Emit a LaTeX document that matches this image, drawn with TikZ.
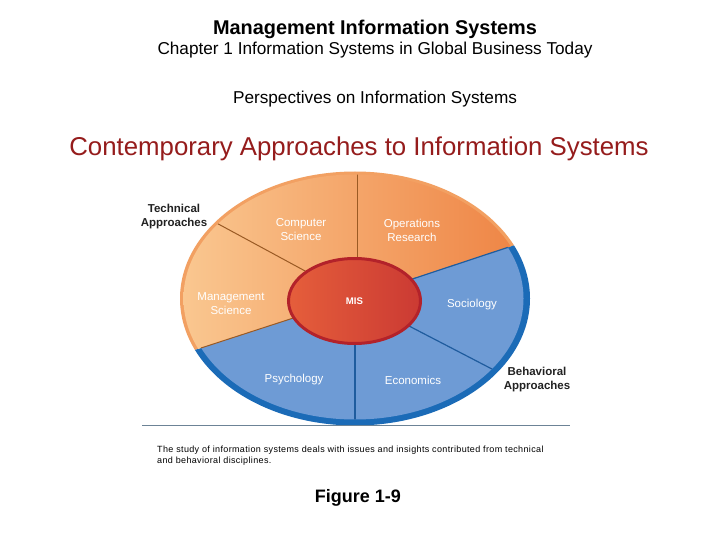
\documentclass[tikz,border=0pt]{standalone}
\usepackage{fontspec}
\setmainfont{Liberation Sans}
\usetikzlibrary{shapes.geometric}
\definecolor{rimOrange}{HTML}{F2A062}
\definecolor{orL}{HTML}{FAC891}
\definecolor{orR}{HTML}{EE8242}
\definecolor{blueFill}{HTML}{6E9BD5}
\definecolor{rimBlue}{HTML}{1B6BB7}
\definecolor{divOrange}{HTML}{9A5A24}
\definecolor{divBlue}{HTML}{1F5C9E}
\definecolor{misL}{HTML}{E55E3B}
\definecolor{misR}{HTML}{CB3A33}
\definecolor{misBorder}{HTML}{B3222A}
\definecolor{grayLine}{HTML}{6C8396}
\definecolor{titleRed}{HTML}{951C1C}
\definecolor{textDark}{HTML}{222222}
\begin{document}
\begin{tikzpicture}[x=1pt,y=-1pt,
  sectorlbl/.style={text=white, font=\fontsize{11.5}{14}\selectfont, align=center, inner sep=0pt},
  outerlbl/.style={text=textDark, font=\bfseries\fontsize{11.5}{14}\selectfont, align=center, inner sep=0pt},
  divo/.style={draw=divOrange, line width=1pt},
  divb/.style={draw=divBlue, line width=1.2pt}]
\useasboundingbox (0,0) rectangle (720,540);
\fill[white] (0,0) rectangle (720,540);

% titles
\node[font=\bfseries\fontsize{19.9}{24}\selectfont, inner sep=0pt] (title) at (375,29) {Management Information Systems};
\node[font=\fontsize{17.2}{20}\selectfont, inner sep=0pt] (chapter) at (375,50) {Chapter 1 Information Systems in Global Business Today};
\node[font=\fontsize{17.2}{20}\selectfont, inner sep=0pt] (persp) at (375,99) {Perspectives on Information Systems};
\node[font=\fontsize{25.8}{30}\selectfont, text=titleRed, inner sep=0pt] (heading) at (359,149) {Contemporary Approaches to Information Systems};

\coordinate (c) at (355,298);
% rim
\begin{scope}
\clip (355,298.5) ellipse [x radius=175pt, y radius=127pt];
\fill[rimOrange] (355,298) -- (669,194) -- (669,100) -- (47,100) -- (47,398) -- cycle;
\fill[rimBlue] (355,298) -- (47,398) -- (47,520) -- (669,520) -- (669,194) -- cycle;
\end{scope}
% orange sectors
\begin{scope}
\clip (355,298.5) ellipse [x radius=171.5pt, y radius=124pt];
\shade[left color=orL, right color=orR] (355,298) -- (532,239.4) -- (532,170) -- (178,170) -- (178,355.5) -- cycle;
\coordinate (d1) at (89,154);
\coordinate (d2) at (357,100);
\coordinate (c2) at (357,298);
\draw[divo] (c) -- (d1);
\draw[divo] (c2) -- (d2);
\end{scope}
% blue sectors
\begin{scope}
\clip (355,298.5) ellipse [x radius=168.5pt, y radius=121pt];
\fill[blueFill] (355,298) -- (178,355.5) -- (178,430) -- (532,430) -- (532,239.4) -- cycle;
\coordinate (d3) at (669,194);
\coordinate (d4) at (625,438);
\coordinate (d5) at (355,520);
\coordinate (d6) at (47,398);
\draw[divb] (c) -- (d3);
\draw[divb] (c) -- (d4);
\draw[divb] (c) -- (d5);
\draw[divo] (c) -- (d6);
\end{scope}

% MIS
\node[ellipse, minimum width=132pt, minimum height=85pt, draw=misBorder, line width=3pt,
  left color=misL, right color=misR, inner sep=0pt, text=white,
  font=\bfseries\fontsize{9.6}{11}\selectfont] (mis) at (354.5,301) {MIS};

% sector labels
\node[sectorlbl] (cs) at (301,230) {Computer\\Science};
\node[sectorlbl] (or) at (412,230) {Operations\\Research};
\node[sectorlbl] (ms) at (231,304) {Management\\Science};
\node[sectorlbl] (soc) at (472,305) {Sociology};
\node[sectorlbl] (psy) at (294,380) {Psychology};
\node[sectorlbl] (eco) at (413,380) {Economics};

% outer labels
\node[outerlbl] (tech) at (174,217) {Technical\\Approaches};
\node[outerlbl] (beh) at (537,380) {Behavioral\\Approaches};

% rule
\coordinate (r1) at (142,425.5);
\coordinate (r2) at (570,425.5);
\draw[grayLine, line width=1.2pt] (r1) -- (r2);

% caption
\node[anchor=west, align=left, inner sep=0pt, font=\fontsize{9}{11}\selectfont\addfontfeature{LetterSpace=4}] (cap) at (157,455.5)
  {The study of information systems deals with issues and insights contributed from technical\\and behavioral disciplines.};
\node[font=\bfseries\fontsize{18}{21}\selectfont, inner sep=0pt] (fig) at (358,498) {Figure 1-9};
\end{tikzpicture}
\end{document}
